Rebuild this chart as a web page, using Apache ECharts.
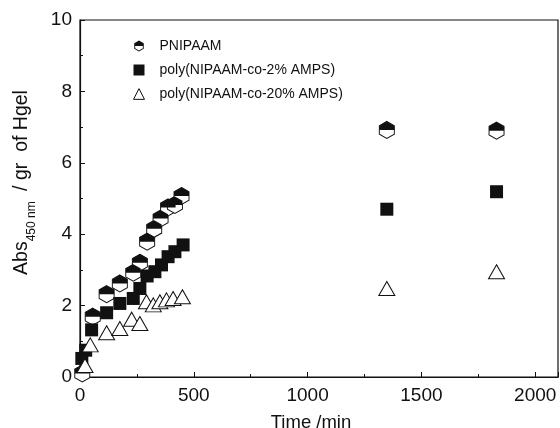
<!DOCTYPE html>
<html>
<head>
<meta charset="utf-8">
<script src="https://cdn.jsdelivr.net/npm/echarts@6/dist/echarts.min.js"></script>
<style>html,body{margin:0;padding:0;background:#fff;}#c{width:560px;height:428px;}</style>
</head>
<body>
<div id="c"></div>
<script>
// Data
var pnipaamTime = [10, 56, 117, 175, 234, 263, 295, 326, 354, 387, 417, 446, 1348, 1830];
var pnipaamAbs  = [0.1, 1.69, 2.32, 2.62, 2.92, 3.2, 3.79, 4.15, 4.44, 4.75, 4.82, 5.07, 6.92, 6.9];
var amps2Time = [8, 25, 51, 117, 175, 234, 263, 295, 329, 358, 387, 417, 453, 1348, 1830];
var amps2Abs  = [0.52, 0.75, 1.32, 1.8, 2.06, 2.2, 2.48, 2.83, 2.95, 3.14, 3.37, 3.51, 3.7, 4.7, 5.19];
var amps20Time = [22, 45, 117, 175, 227, 263, 292, 322, 351, 380, 409, 450, 1348, 1830];
var amps20Abs  = [0.32, 0.9, 1.24, 1.36, 1.62, 1.5, 2.11, 2.02, 2.11, 2.16, 2.2, 2.25, 2.48, 2.95];
var xTicks = [0, 500, 1000, 1500, 2000];
var yTicks = [0, 2, 4, 6, 8, 10];
var seriesNames = ['PNIPAAM', 'poly(NIPAAM-co-2% AMPS)', 'poly(NIPAAM-co-20% AMPS)'];

function pairs(xs, ys) { return xs.map(function (x, i) { return [x, ys[i]]; }); }

var HEX = 'path://M0,-1 L0.866,-0.5 L0.866,0.5 L0,1 L-0.866,0.5 L-0.866,-0.5 Z';
var HEXTOP = 'path://M0,-1 L0.866,-0.5 L0.866,0 L-0.866,0 L-0.866,-0.5 Z';
// half-filled hexagon as one black path (top solid, bottom outline band)
var HEXHALF = 'path://M0,-1 L0.866,-0.5 L0.866,0 L-0.866,0 L-0.866,-0.5 Z ' +
  'M0.866,0 L0.866,0.5 L0,1 L-0.866,0.5 L-0.866,0 Z ' +
  'M-0.70,0 L-0.70,0.405 L0,0.81 L0.70,0.405 L0.70,0 Z';
var TRI = 'path://M0,-1 L0.9,0.75 L-0.9,0.75 Z';

var ink = '#111';
var chart = echarts.init(document.getElementById('c'), null, {renderer: 'canvas'});
var font = 'Liberation Sans, Arial, Helvetica, sans-serif';
chart.setOption({
  animation: false,
  backgroundColor: '#fff',
  grid: {left: 80, right: 2, top: 20, bottom: 51, containLabel: false, outerBoundsMode: 'none',
    show: true, borderColor: ink, borderWidth: 1.2, backgroundColor: 'transparent'},
  legend: {
    orient: 'vertical', left: 128, top: 34, itemWidth: 11, itemHeight: 11, itemGap: 10,
    textStyle: {fontFamily: font, fontSize: 14, color: ink, padding: [0, 0, 0, 10]},
    data: [
      {name: seriesNames[0], icon: HEXHALF, itemStyle: {color: ink, borderWidth: 0}},
      {name: seriesNames[1], icon: 'rect', itemStyle: {color: ink}},
      {name: seriesNames[2], icon: TRI, itemStyle: {color: '#fff', borderColor: ink, borderWidth: 1}}
    ],
    selectedMode: false
  },
  xAxis: {
    type: 'value', min: 0, max: 2100, interval: 500,
    name: 'Time /min', nameLocation: 'middle', nameGap: 36,
    nameTextStyle: {fontFamily: font, fontSize: 18.5, color: ink, padding: [0, 16, 0, 0]},
    axisLine: {lineStyle: {color: ink, width: 1.2}},
    axisTick: {inside: true, length: 5, lineStyle: {color: ink}},
    minorTick: {show: true, splitNumber: 2, length: 3, lineStyle: {color: ink}},
    splitLine: {show: false},
    axisLabel: {fontFamily: font, fontSize: 19, color: ink, margin: 9,
      formatter: function (v) { return xTicks.indexOf(v) >= 0 ? String(v) : ''; }}
  },
  yAxis: {
    type: 'value', min: 0, max: 10, interval: 2,
    name: '{a|Abs}{s|450 nm}{a| / gr  of Hgel}', nameLocation: 'middle', nameGap: 48,
    nameTextStyle: {fontFamily: font, fontSize: 19, color: ink, padding: [0, 0, 0, 32],
      rich: {a: {fontFamily: font, fontSize: 19.5, color: ink, verticalAlign: 'bottom', lineHeight: 21},
             s: {fontFamily: font, fontSize: 12, color: ink, verticalAlign: 'bottom', lineHeight: 21, padding: [0, 5, -6, 0]}}},
    axisLine: {lineStyle: {color: ink, width: 1.2}},
    axisTick: {inside: true, length: 5, lineStyle: {color: ink}},
    minorTick: {show: true, splitNumber: 2, length: 3, lineStyle: {color: ink}},
    splitLine: {show: false},
    axisLabel: {fontFamily: font, fontSize: 19, color: ink, margin: 8,
      formatter: function (v) { return yTicks.indexOf(v) >= 0 ? String(v) : ''; }}
  },
  series: [
    {name: seriesNames[0], type: 'scatter', data: pairs(pnipaamTime, pnipaamAbs), symbol: HEX, symbolSize: [15, 17],
     itemStyle: {color: '#fff', borderColor: ink, borderWidth: 1, opacity: 1}, z: 2},
    {name: 'PNIPAAM-top', type: 'scatter', data: pairs(pnipaamTime, pnipaamAbs), symbol: HEXTOP, symbolSize: [15, 8.5], symbolOffset: [0, -4.25],
     itemStyle: {color: ink, opacity: 1}, z: 3},
    {name: seriesNames[1], type: 'scatter', data: pairs(amps2Time, amps2Abs), symbol: 'rect', symbolSize: 13,
     itemStyle: {color: ink, opacity: 1}, z: 4},
    {name: seriesNames[2], type: 'scatter', data: pairs(amps20Time, amps20Abs), symbol: TRI, symbolSize: [16, 14],
     itemStyle: {color: '#fff', borderColor: ink, borderWidth: 1, opacity: 1}, z: 5}
  ]
});
</script>
</body>
</html>
